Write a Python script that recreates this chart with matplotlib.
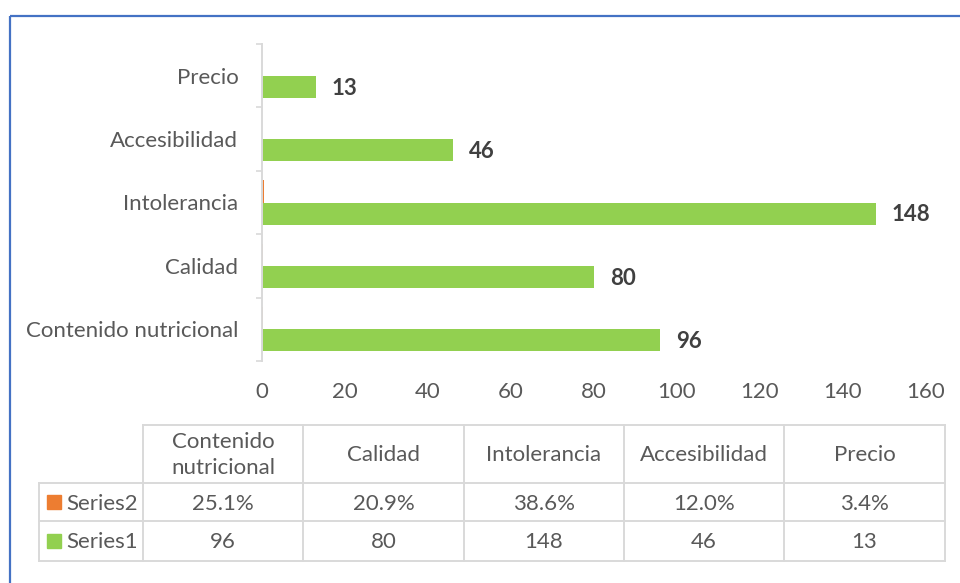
import matplotlib.pyplot as plt
from matplotlib.patches import Rectangle

categorias = ["Contenido nutricional", "Calidad", "Intolerancia", "Accesibilidad", "Precio"]
cabecera = ["Contenido\nnutricional", "Calidad", "Intolerancia", "Accesibilidad", "Precio"]
series1 = [96, 80, 148, 46, 13]
series2 = [0.251, 0.209, 0.386, 0.120, 0.034]

verde = "#92D050"
naranja = "#ED7D31"
gris_txt = "#595959"
gris_lin = "#D9D9D9"
fs = 16

plt.rcParams["font.family"] = ["Lato", "DejaVu Sans"]

W, H = 960, 583
fig = plt.figure(figsize=(W / 100, H / 100), dpi=100)

# borde azul del grafico
fig.add_artist(Rectangle((9.5 / W, 1 - 15.5 / H), 1.2, -1.2, transform=fig.transFigure,
                         fill=False, edgecolor="#4472C4", linewidth=1.6))

ax = fig.add_axes([262 / W, 1 - 361 / H, (926 - 262) / W, (361 - 44) / H])
pos = list(range(len(categorias)))
h = 0.35
ax.barh([p + h / 2 for p in pos], series2, height=h, color=naranja, linewidth=0)
ax.barh([p - h / 2 for p in pos], series1, height=h, color=verde, linewidth=0)

for p, v in zip(pos, series1):
    ax.text(v + 3.8, p - h / 2 - 0.02, str(v), va="center", ha="left",
            fontsize=fs, fontweight="bold", color="#404040")

ax.set_xlim(0, 160)
ax.set_ylim(-0.5, len(categorias) - 0.5)
ax.set_xticks(range(0, 161, 20))
ax.set_yticks(pos)
ax.set_yticklabels(categorias)
ax.set_yticks([p - 0.5 for p in pos] + [len(pos) - 0.5], minor=True)
ax.tick_params(axis="y", which="major", length=0, pad=17, labelsize=fs, labelcolor=gris_txt)
ax.tick_params(axis="y", which="minor", length=4.5, width=1.2, color=gris_lin)
ax.tick_params(axis="x", length=0, pad=15, labelsize=fs, labelcolor=gris_txt)
for s in ["top", "right", "bottom"]:
    ax.spines[s].set_visible(False)
ax.spines["left"].set_color(gris_lin)
ax.spines["left"].set_linewidth(1.4)

# tabla de datos
tb = fig.add_axes([0, 0, 1, 1])
tb.set_xlim(0, W)
tb.set_ylim(H, 0)
tb.axis("off")

cols = [143, 303, 464, 624, 784, 945]
filas = [425, 483, 521, 561]
lw = 1.4
tb.plot([cols[0], cols[-1]], [filas[0]] * 2, color=gris_lin, lw=lw)
for y in filas[1:]:
    tb.plot([39, cols[-1]], [y, y], color=gris_lin, lw=lw)
tb.plot([39, 39], [filas[1], filas[-1]], color=gris_lin, lw=lw)
for x in cols:
    tb.plot([x, x], [filas[0], filas[-1]], color=gris_lin, lw=lw)

for i, c in enumerate(cabecera):
    xc = (cols[i] + cols[i + 1]) / 2
    tb.text(xc, (filas[0] + filas[1]) / 2 + 1, c, ha="center", va="center",
            fontsize=fs, color=gris_txt, linespacing=1.4)
    tb.text(xc, (filas[1] + filas[2]) / 2 + 1.5, f"{series2[i] * 100:.1f}%", ha="center",
            va="center", fontsize=fs, color=gris_txt)
    tb.text(xc, (filas[2] + filas[3]) / 2 + 1.5, str(series1[i]), ha="center",
            va="center", fontsize=fs, color=gris_txt)

for nombre, color, (y0, y1) in [("Series2", naranja, (filas[1], filas[2])),
                                ("Series1", verde, (filas[2], filas[3]))]:
    yc = (y0 + y1) / 2
    tb.add_patch(Rectangle((47, yc - 7), 14, 14, color=color))
    tb.text(66, yc + 1.5, nombre, ha="left", va="center", fontsize=fs, color=gris_txt)

fig.savefig("out.png", dpi=100)
